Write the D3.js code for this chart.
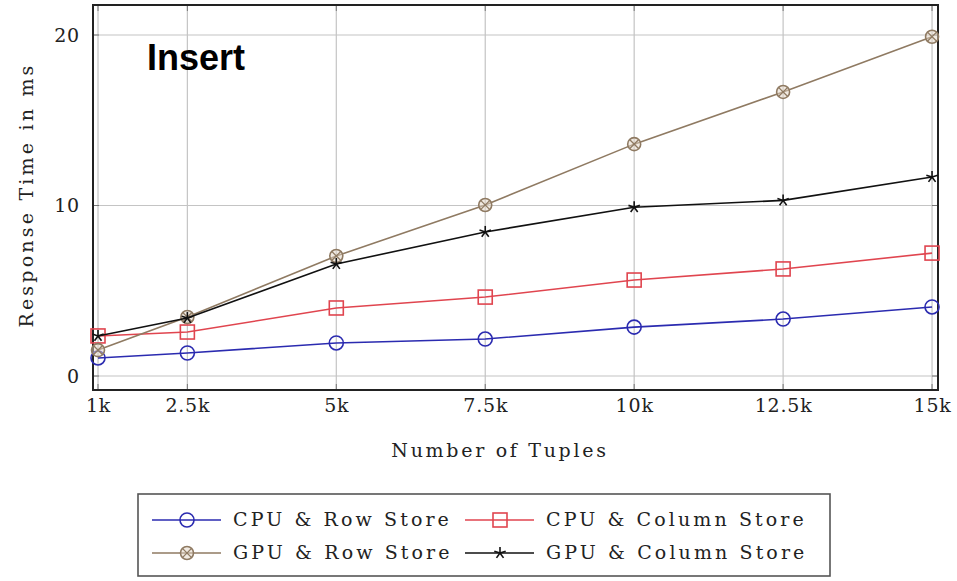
<!DOCTYPE html>
<html>
<head>
<meta charset="utf-8">
<script src="https://cdn.jsdelivr.net/npm/d3@7"></script>
<style>
  body { margin: 0; background: #fff; }
  text { font-family: "DejaVu Serif", serif; fill: #222; }
</style>
</head>
<body>
<div class="container"></div>
<script>
// data
const tuples = [1, 2.5, 5, 7.5, 10, 12.5, 15]
const xTickLabels = ["1k", "2.5k", "5k", "7.5k", "10k", "12.5k", "15k"]
const yTicks = [0, 10, 20]

const cpuRow = [1.06, 1.35, 1.94, 2.17, 2.87, 3.34, 4.05]
const cpuColumn = [2.35, 2.58, 3.99, 4.63, 5.63, 6.28, 7.21]
const gpuRow = [1.52, 3.46, 7.04, 10.03, 13.6, 16.66, 19.9]
const gpuColumn = [2.35, 3.4, 6.57, 8.45, 9.9, 10.3, 11.67]

const seriesNames = ["CPU & Row Store", "CPU & Column Store", "GPU & Row Store", "GPU & Column Store"]

const w = 957
const h = 581
const padLeft = 93, padRight = 938, padTop = 5, padBottom = 390

const series = [
    {name: seriesNames[0], values: cpuRow, color: "#2b2bb0", mark: "circle"},
    {name: seriesNames[1], values: cpuColumn, color: "#e0454f", mark: "square"},
    {name: seriesNames[2], values: gpuRow, color: "#8f7a62", mark: "otimes"},
    {name: seriesNames[3], values: gpuColumn, color: "#111", mark: "star"}
]

const svg = d3.select(".container")
    .append("svg")
    .attr("width", w)
    .attr("height", h)

const xScale = d3.scaleLinear()
    .domain([0.916, 15.1])
    .range([padLeft, padRight])
const yScale = d3.scaleLinear()
    .domain([-0.82, 21.76])
    .range([padBottom, padTop])

// grid
svg.append("g")
    .selectAll("line")
    .data(tuples)
    .enter()
    .append("line")
    .attr("x1", d => xScale(d)).attr("x2", d => xScale(d))
    .attr("y1", padTop).attr("y2", padBottom)
    .attr("stroke", "#c4c4c4").attr("stroke-width", 1.2)
svg.append("g")
    .selectAll("line")
    .data(yTicks)
    .enter()
    .append("line")
    .attr("x1", padLeft).attr("x2", padRight)
    .attr("y1", d => yScale(d)).attr("y2", d => yScale(d))
    .attr("stroke", "#c4c4c4").attr("stroke-width", 1.2)

// small inward ticks
const tickLen = 6
tuples.forEach(t => {
    svg.append("line").attr("x1", xScale(t)).attr("x2", xScale(t))
        .attr("y1", padBottom).attr("y2", padBottom - tickLen).attr("stroke", "#777")
    svg.append("line").attr("x1", xScale(t)).attr("x2", xScale(t))
        .attr("y1", padTop).attr("y2", padTop + tickLen).attr("stroke", "#777")
})
yTicks.forEach(t => {
    svg.append("line").attr("x1", padLeft).attr("x2", padLeft + tickLen)
        .attr("y1", yScale(t)).attr("y2", yScale(t)).attr("stroke", "#777")
    svg.append("line").attr("x1", padRight).attr("x2", padRight - tickLen)
        .attr("y1", yScale(t)).attr("y2", yScale(t)).attr("stroke", "#777")
})

// axes (labels only, frame drawn separately)
const xAxis = d3.axisBottom(xScale)
    .tickValues(tuples)
    .tickFormat((d, i) => xTickLabels[i])
    .tickSize(0)
    .tickPadding(9)
svg.append("g")
    .attr("id", "x-axis")
    .attr("transform", "translate(0," + padBottom + ")")
    .call(xAxis)
    .call(g => g.select(".domain").remove())
    .selectAll("text")
    .style("font-family", "DejaVu Serif")
    .style("font-size", "19px")
    .style("letter-spacing", "0.8px")
    .style("fill", "#222")

const yAxis = d3.axisLeft(yScale)
    .tickValues(yTicks)
    .tickSize(0)
    .tickPadding(13)
svg.append("g")
    .attr("id", "y-axis")
    .attr("transform", "translate(" + padLeft + ",0)")
    .call(yAxis)
    .call(g => g.select(".domain").remove())
    .selectAll("text")
    .style("font-family", "DejaVu Serif")
    .style("font-size", "19px")
    .style("letter-spacing", "0.8px")
    .style("fill", "#222")

// frame
svg.append("rect")
    .attr("x", padLeft).attr("y", padTop)
    .attr("width", padRight - padLeft).attr("height", padBottom - padTop)
    .attr("fill", "none").attr("stroke", "#222").attr("stroke-width", 2)

// lines
const line = d3.line()
    .x((d, i) => xScale(tuples[i]))
    .y(d => yScale(d))

function drawMark(g, mark, color, cx, cy) {
    if (mark === "circle") {
        g.append("circle").attr("cx", cx).attr("cy", cy).attr("r", 7)
            .attr("fill", "none").attr("stroke", color).attr("stroke-width", 1.6)
    } else if (mark === "square") {
        g.append("rect").attr("x", cx - 7).attr("y", cy - 7).attr("width", 14).attr("height", 14)
            .attr("fill", "none").attr("stroke", color).attr("stroke-width", 1.6)
    } else if (mark === "otimes") {
        g.append("circle").attr("cx", cx).attr("cy", cy).attr("r", 6.5)
            .attr("fill", "#e3d6c6").attr("fill-opacity", 0.5).attr("stroke", color).attr("stroke-width", 1.6)
        const r = 4.6
        g.append("line").attr("x1", cx - r).attr("y1", cy - r).attr("x2", cx + r).attr("y2", cy + r)
            .attr("stroke", color).attr("stroke-width", 1.3)
        g.append("line").attr("x1", cx - r).attr("y1", cy + r).attr("x2", cx + r).attr("y2", cy - r)
            .attr("stroke", color).attr("stroke-width", 1.3)
    } else if (mark === "star") {
        const r = 6
        for (let k = 0; k < 5; k++) {
            const a = -Math.PI / 2 + k * 2 * Math.PI / 5
            g.append("line").attr("x1", cx).attr("y1", cy)
                .attr("x2", cx + r * Math.cos(a)).attr("y2", cy + r * Math.sin(a))
                .attr("stroke", color).attr("stroke-width", 1.6)
        }
    }
}

series.forEach(s => {
    const g = svg.append("g")
    g.append("path")
        .datum(s.values)
        .attr("d", line)
        .attr("fill", "none")
        .attr("stroke", s.color)
        .attr("stroke-width", 1.6)
    s.values.forEach((v, i) => drawMark(g, s.mark, s.color, xScale(tuples[i]), yScale(v)))
})

// title inside plot
svg.append("text")
    .attr("x", 147).attr("y", 70)
    .style("font-family", "Liberation Sans, Arial, sans-serif")
    .style("font-weight", "bold")
    .style("font-size", "36px")
    .style("fill", "#000")
    .text("Insert")

// axis titles
svg.append("text")
    .attr("x", 500).attr("y", 457)
    .attr("text-anchor", "middle")
    .style("font-size", "19px")
    .style("letter-spacing", "2.7px")
    .text("Number of Tuples")

svg.append("text")
    .attr("transform", "translate(33,195) rotate(-90)")
    .attr("text-anchor", "middle")
    .style("font-size", "19px")
    .style("letter-spacing", "3.2px")
    .text("Response Time in ms")

// legend
const legend = svg.append("g")
legend.append("rect")
    .attr("x", 138).attr("y", 494).attr("width", 692).attr("height", 82)
    .attr("fill", "#fff").attr("stroke", "#555").attr("stroke-width", 1.6)

const legendPos = [
    {lx: 152, ly: 520}, {lx: 465, ly: 520},
    {lx: 152, ly: 553}, {lx: 465, ly: 553}
]
series.forEach((s, i) => {
    const p = legendPos[i]
    legend.append("line")
        .attr("x1", p.lx).attr("x2", p.lx + 69)
        .attr("y1", p.ly).attr("y2", p.ly)
        .attr("stroke", s.color).attr("stroke-width", 1.6)
    drawMark(legend, s.mark, s.color, p.lx + 35, p.ly)
    legend.append("text")
        .attr("x", p.lx + 81).attr("y", p.ly + 6)
        .style("font-size", "19px")
        .style("letter-spacing", "3.1px")
        .text(s.name)
})
</script>
</body>
</html>
